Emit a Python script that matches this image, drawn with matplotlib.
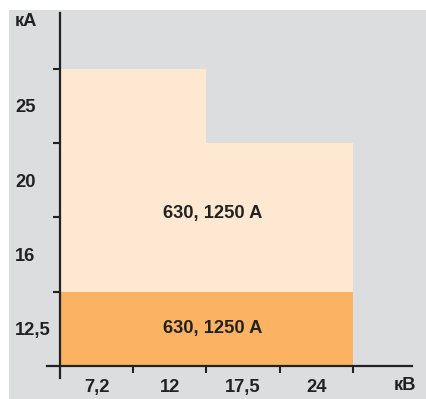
import matplotlib.pyplot as plt
from matplotlib.patches import Rectangle

plt.rcParams['font.family'] = ['Liberation Sans', 'DejaVu Sans']

# voltage classes (x) and short-circuit current classes (y)
kv_labels = ["7,2", "12", "17,5", "24"]
ka_labels = ["12,5", "16", "20", "25"]

# how many kA bands each kV class reaches
base_level = [1, 1, 1, 1]        # 12,5 kA band, all voltages
upper_level = [4, 4, 3, 3]       # top of the light region
base_text = "630, 1250 A"
upper_text = "630, 1250 A"

light = "#fee8d1"
dark = "#fbb263"
bg = "#dcdddf"
ink = "#222222"
fs = 13.2

fig = plt.figure(figsize=(4.26, 3.99), dpi=100)
fig.patches.append(Rectangle((9 / 426, 0), 1, (399 - 10) / 399,
                             transform=fig.transFigure, facecolor=bg,
                             edgecolor="none", zorder=-1))
ax = fig.add_axes([0, 0, 1, 1])
ax.patch.set_alpha(0)

x = list(range(len(kv_labels)))
ax.bar(x, base_level, width=1.0, align="edge", color=dark, linewidth=0)
ax.bar(x, [u - b for u, b in zip(upper_level, base_level)], bottom=base_level,
       width=1.0, align="edge", color=light, linewidth=0)

ax.text(2.09, 2.05, upper_text, ha="center", va="center",
        fontsize=fs, fontweight="bold", color=ink)
ax.text(2.09, 0.51, base_text, ha="center", va="center",
        fontsize=fs, fontweight="bold", color=ink)

ax.set_xlim(-0.819, 4.997)
ax.set_ylim(-0.444, 4.926)

for s in ["top", "right"]:
    ax.spines[s].set_visible(False)
ax.spines["left"].set_position(("data", 0))
ax.spines["bottom"].set_position(("data", 0))
ax.spines["left"].set_bounds(-0.16, 4.75)
ax.spines["bottom"].set_bounds(-0.177, 4.805)
for s in ["left", "bottom"]:
    ax.spines[s].set_linewidth(1.6)
    ax.spines[s].set_color(ink)

# boundary ticks
ax.set_xticks([1, 2, 3, 4])
ax.set_yticks([1, 2, 3, 4])
ax.set_xticklabels([])
ax.set_yticklabels([])
ax.tick_params(which="major", direction="out", length=5, width=1.5, color=ink)

# category labels centred in each band
ax.set_xticks([i + 0.5 for i in x], kv_labels, minor=True)
ax.set_yticks([i + 0.5 for i in range(len(ka_labels))], ka_labels, minor=True)
ax.tick_params(axis="x", which="minor", length=0, pad=9.5, labelsize=fs,
               labelcolor=ink)
ax.tick_params(axis="y", which="minor", length=0, pad=32.4, labelsize=fs,
               labelcolor=ink)
for lbl in ax.get_xticklabels(minor=True) + ax.get_yticklabels(minor=True):
    lbl.set_fontweight("bold")
for lbl in ax.get_yticklabels(minor=True):
    lbl.set_ha("left")

fig.text(15 / 426, 1 - 22 / 399, "кА", ha="left", va="center",
         fontsize=fs, fontweight="bold", color=ink)
fig.text(405 / 426, 1 - 386 / 399, "кВ", ha="center", va="center",
         fontsize=fs, fontweight="bold", color=ink)

fig.savefig("out.png", dpi=100)
